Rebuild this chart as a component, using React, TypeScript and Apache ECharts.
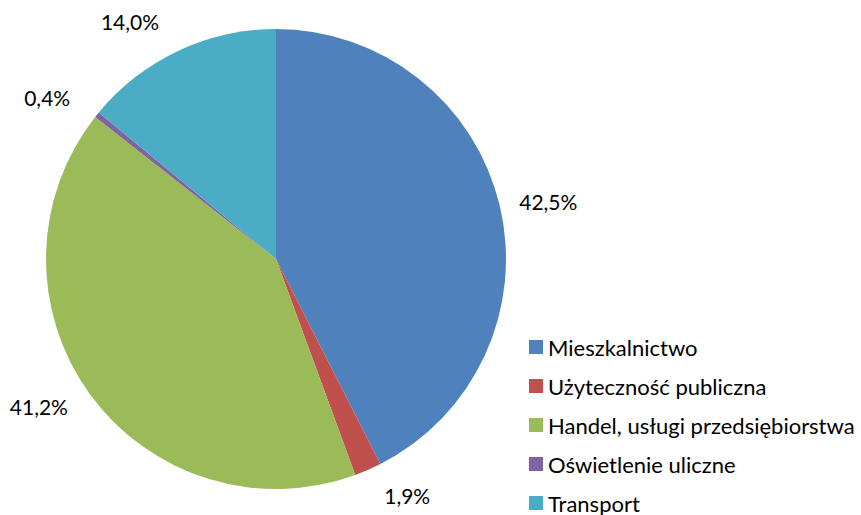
import React, { useEffect, useRef } from "react";
import * as echarts from "echarts";

const categories = [
  "Mieszkalnictwo",
  "Użyteczność publiczna",
  "Handel, usługi przedsiębiorstwa",
  "Oświetlenie uliczne",
  "Transport",
];
const values = [42.5, 1.9, 41.2, 0.4, 14.0];
const colors = ["#4F81BD", "#C0504D", "#9BBB59", "#8064A2", "#4BACC6"];
const labelOffsets = [15, 28, 21, 28, 33];

export default function App() {
  const ref = useRef<HTMLDivElement>(null);
  useEffect(() => {
    document.body.style.margin = "0";
    const chart = echarts.init(ref.current!, null, { renderer: "svg" });
    chart.setOption({
      animation: false,
      color: colors,
      textStyle: { fontFamily: "Lato", color: "#000" },
      legend: {
        orient: "vertical",
        left: 529,
        top: 336,
        height: 300,
        padding: 0,
        itemWidth: 14,
        itemHeight: 14,
        itemGap: 17,
        icon: "rect",
        textStyle: { fontSize: 22, lineHeight: 22, color: "#000", fontFamily: "Lato" },
        data: categories,
      },
      series: [
        {
          type: "pie",
          center: [276, 259],
          radius: 230,
          startAngle: 90,
          clockwise: true,
          avoidLabelOverlap: false,
          data: categories.map((c, i) => ({
            name: c,
            value: values[i],
            labelLine: { length: labelOffsets[i] },
          })),
          label: {
            show: true,
            position: "outside",
            fontSize: 21,
            color: "#000",
            fontFamily: "Lato",
            formatter: (p: any) => p.value.toFixed(1).replace(".", ",") + "%",
          },
          labelLine: { show: false, length: 28, length2: 0 },
          itemStyle: { borderWidth: 0 },
          emphasis: { disabled: true },
        },
      ],
    });
    return () => chart.dispose();
  }, []);
  return <div ref={ref} style={{ width: 861, height: 515 }} />;
}
